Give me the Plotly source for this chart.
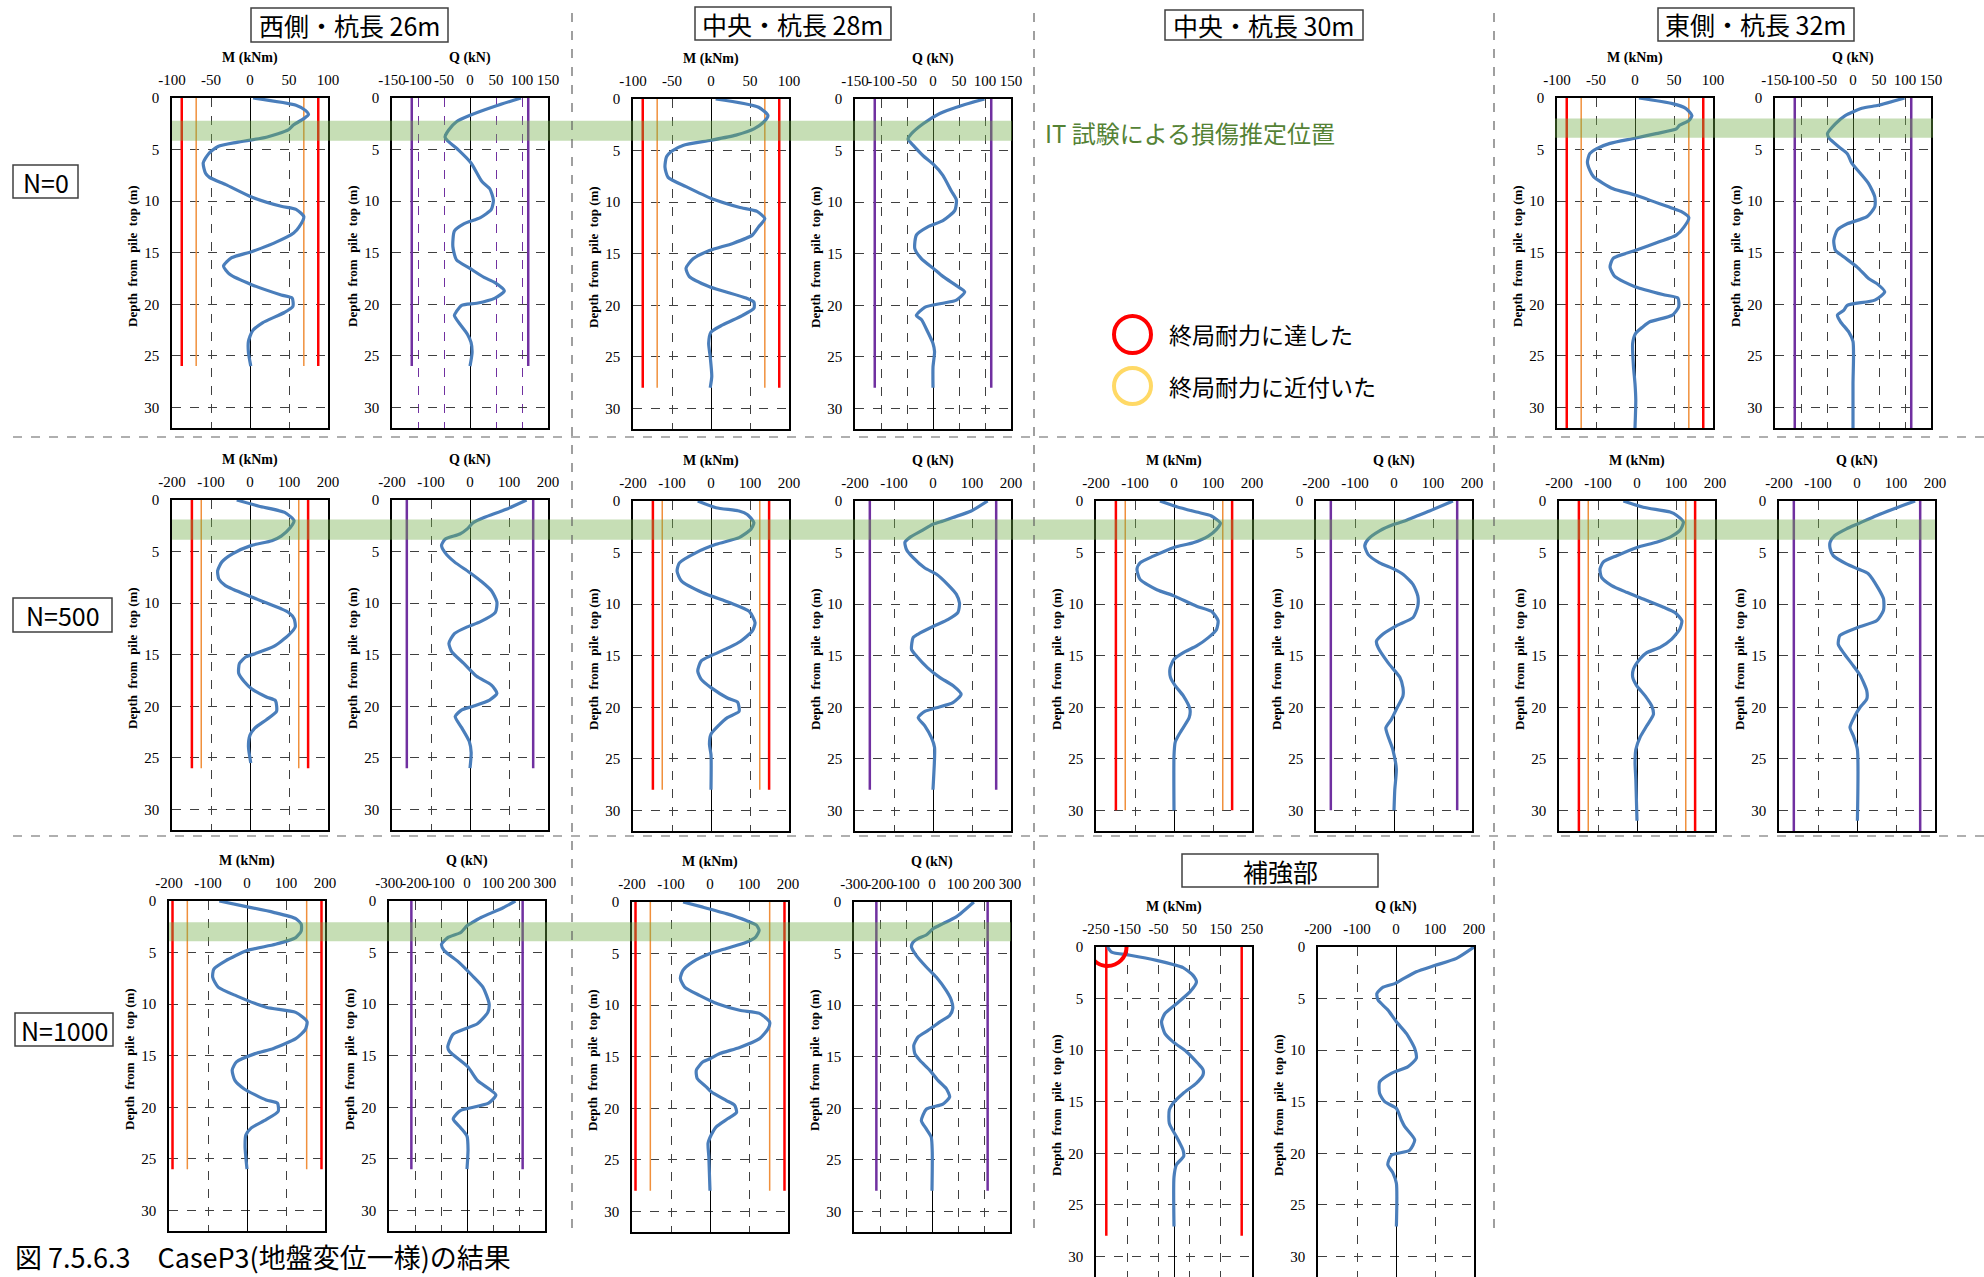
import plotly.graph_objects as go

# depth from pile top (m) and bending moment M (kNm) / shear Q (kN)
# N=0
n0_w_md = [0, 0.7, 1.2, 1.6, 2.0, 2.6, 3.1, 3.8, 4.3, 4.7, 5.4, 6.3, 7.3, 7.7, 8.4, 9.6, 10.5, 10.8, 11.5, 12.5, 13.1,
           14.1, 14.9, 15.5, 16.3, 17.1, 18.1, 19.1, 19.4, 20.2, 20.8, 21.8, 22.6, 23.6, 24.7, 26]
n0_w_m = [4, 59, 71, 75, 69, 56, 49, 21, -17, -41, -53, -60, -57, -52, -31, 2, 40, 59, 69, 63, 56,
          30, 2, -24, -34, -26, 2, 40, 54, 55, 44, 16, 3, -2, -2, 1]
n0_w_qd = [0, 0.8, 1.7, 2.3, 3.1, 3.8, 4.1, 5.0, 6.3, 8.1, 8.8, 9.9, 10.8, 11.6, 12.2, 12.9, 14.4, 15.7, 16.5, 17.4,
           17.9, 18.7, 19.4, 19.9, 20.1, 20.7, 21.1, 22.9, 23.7, 24.7, 26]
n0_w_q = [98, 48, -1, -26, -41, -48, -44, -23, 2, 23, 38, 45, 41, 20, -12, -30, -33, -26, -1, 27,
          48, 66, 48, 13, -16, -26, -30, -5, 2, 4, 0]

n0_c28_md = [0, 0.8, 1.6, 2.2, 2.9, 3.5, 4.0, 4.5, 5.0, 5.6, 6.6, 7.6, 8.5, 9.7, 10.5, 10.9, 11.6, 12.4, 13.2, 14.0,
             14.7, 15.5, 16.4, 17.2, 18.2, 19.3, 19.7, 20.3, 21.0, 21.9, 22.6, 23.7, 25.0, 26.9, 28]
n0_c28_m = [6, 61, 73, 68, 55, 32, 0, -36, -49, -57, -59, -55, -32, 2, 36, 59, 69, 61, 53, 28,
            -2, -23, -32, -28, -2, 45, 55, 55, 40, 15, 0, -3, -1, 1, -1]
n0_c28_qd = [0, 0.6, 1.4, 2.4, 3.4, 3.9, 4.5, 5.5, 6.3, 7.4, 8.9, 9.8, 10.8, 11.8, 12.4, 13.2, 14.5, 15.5, 16.4,
             17.2, 18.1, 18.7, 19.5, 19.8, 20.2, 21.0, 21.4, 22.6, 23.7, 24.5, 26, 28]
n0_c28_q = [99, 57, 13, -19, -42, -48, -38, -19, 0, 19, 35, 45, 42, 19, -10, -32, -35, -22, 0,
            19, 45, 61, 45, 19, -16, -32, -22, -10, 0, 3, 0, 0]

n0_e32_md = [0, 0.55, 1.0, 1.7, 2.2, 2.65, 3.0, 3.45, 3.9, 4.4, 4.9, 5.4, 6.2, 7.0, 7.65, 8.8, 9.4, 10.7, 11.0, 11.6,
             12.5, 13.3, 13.95, 14.75, 15.55, 16.4, 17.3, 18.3, 19.1, 19.4, 20.25, 21.05, 21.7, 22.2, 22.8, 23.8,
             26.0, 27.7, 29.3, 32]
n0_e32_m = [5, 48, 65, 73, 69, 57, 53, 27, 0, -32, -49, -58, -61, -58, -53, -28, 0, 48, 59, 69,
            63, 53, 31, 2, -28, -32, -26, 0, 38, 55, 56, 48, 19, 10, 1, -3, -2, 0, 1, 0]
n0_e32_qd = [0, 0.7, 1.0, 1.7, 2.5, 3.45, 3.9, 4.75, 5.4, 6.35, 7.3, 8.3, 9.6, 10.55, 11.5, 12.2, 12.8, 13.8, 14.75,
             15.4, 16.4, 17.5, 18.0, 18.8, 19.6, 20.1, 20.6, 21.05, 21.7, 22.7, 23.6, 25.1, 27.7, 32]
n0_e32_q = [99, 49, 17, -15, -34, -49, -46, -27, -11, -2, 14, 30, 42, 42, 27, -11, -30, -37, -34,
            -18, 8, 30, 46, 61, 42, -11, -18, -30, -24, -8, 0, 1, 0, 0]

# N=500
n500_w_md = [0, 0.6, 1.2, 2.0, 2.7, 3.5, 3.95, 4.4, 5.2, 6.0, 6.85, 7.65, 8.3, 9.4, 10.55, 10.9, 11.5, 12.3, 13.1,
             14.2, 14.9, 15.2, 15.85, 16.8, 17.6, 18.3, 19.1, 19.45, 20.5, 21.3, 22.1, 22.8, 23.9, 25.5]
n500_w_m = [-34, 23, 89, 113, 103, 80, 56, 4, -44, -72, -83, -80, -63, 4, 80, 99, 113, 116, 99,
            61, 13, -10, -27, -29, -15, 4, 42, 65, 68, 42, 13, 0, -4, 2]
n500_w_qd = [0, 0.9, 1.7, 2.2, 2.8, 3.3, 3.8, 4.4, 5.1, 6.0, 7.0, 7.95, 8.8, 9.9, 10.9, 11.8, 12.3, 12.95, 13.9,
             14.7, 15.85, 17.1, 17.95, 18.75, 19.4, 20.0, 20.35, 21.0, 22.1, 23.4, 24.5, 26]
n500_w_q = [145, 93, 36, 8, -7, -26, -64, -73, -64, -40, -2, 31, 55, 69, 65, 27, -7, -40, -54,
            -47, -16, 17, 55, 69, 50, 8, -21, -38, -21, -2, 3, 0]

n500_c28_md = [0, 0.65, 0.97, 1.3, 2.1, 2.75, 3.55, 4.2, 5.0, 6.0, 6.8, 7.75, 8.9, 9.85, 10.7, 11.8, 12.6, 13.6,
               14.2, 15.0, 15.5, 16.5, 17.3, 18.1, 19.1, 19.5, 20.4, 21.0, 21.7, 22.6, 23.6, 24.6, 28]
n500_c28_m = [-34, 13, 72, 93, 110, 102, 72, 13, -38, -81, -87, -76, -21, 47, 98, 113, 106, 76,
              47, 0, -25, -34, -25, 0, 42, 68, 72, 42, 21, 0, -4, 0, 0]
n500_c28_qd = [0, 0.97, 1.6, 1.94, 2.26, 2.9, 3.55, 4.0, 4.7, 5.5, 6.5, 7.1, 8.1, 9.05, 9.9, 10.8, 11.5, 12.1,
               12.9, 13.25, 14.4, 15.0, 16.2, 17.1, 17.9, 18.75, 19.55, 20.05, 20.4, 21.0, 21.8, 22.95, 23.9,
               24.9, 28]
n500_c28_q = [140, 98, 51, 26, 0, -30, -60, -72, -68, -51, -21, 9, 38, 60, 68, 64, 38, 4,
              -38, -51, -55, -43, -13, 17, 51, 72, 51, 9, -21, -38, -21, -4, 4, 4, 0]

n500_c30_md = [0, 0.55, 1.07, 1.45, 2.15, 2.75, 3.4, 4.05, 4.5, 5.35, 6.0, 6.6, 7.6, 8.6, 9.2, 10.2, 10.7, 11.6,
               12.45, 13.25, 14.05, 14.7, 15.35, 16.2, 17.1, 17.9, 18.9, 20.2, 21.0, 22.5, 23.4, 24.7, 30]
n500_c30_m = [-36, 7, 58, 96, 119, 109, 88, 49, 0, -53, -87, -95, -87, -44, 0, 58, 96, 113,
              109, 88, 58, 24, 0, -10, -9, 3, 24, 41, 39, 15, 3, 0, 0]
n500_c30_qd = [0, 0.97, 1.6, 1.94, 2.26, 2.9, 3.7, 4.35, 5.2, 6.0, 6.6, 7.1, 8.1, 9.2, 10.2, 11.3, 12.1, 12.9,
               13.6, 14.2, 15.7, 17.1, 18.1, 18.9, 20.2, 21.2, 22.0, 24.1, 26, 28, 30]
n500_c30_q = [151, 91, 49, 27, 0, -37, -66, -75, -66, -37, 0, 23, 49, 61, 61, 49, 6, -28,
              -45, -41, -15, 15, 23, 23, 6, -7, -21, -3, 6, 2, 0]

n500_e32_md = [0, 0.6, 1.07, 1.4, 2.05, 2.85, 3.5, 4.0, 4.5, 5.3, 5.9, 6.6, 7.4, 8.2, 8.85, 9.5, 10.3, 10.8, 11.6,
               12.4, 13.4, 14.2, 14.7, 15.3, 16.3, 17.1, 17.9, 18.9, 19.9, 20.7, 21.8, 22.9, 24.1, 25.4, 27.0, 31]
n500_e32_m = [-35, 16, 85, 102, 119, 110, 85, 50, 0, -52, -86, -95, -91, -65, -27, 16, 68, 97, 115,
              110, 89, 59, 25, 8, -9, -11, -1, 21, 38, 42, 25, 8, -3, -5, -3, 0]
n500_e32_qd = [0, 0.65, 1.4, 2.2, 2.7, 3.35, 4.0, 4.6, 5.3, 6.1, 6.6, 7.05, 8.5, 9.5, 10.6, 11.6, 12.25, 13.05,
               13.9, 14.7, 16.0, 16.9, 18.4, 19.2, 20.0, 20.8, 21.95, 22.8, 24.1, 31]
n500_e32_q = [149, 102, 51, 3, -27, -57, -69, -69, -61, -27, 3, 29, 55, 68, 68, 51, 3, -44,
              -48, -35, -9, 8, 25, 25, 8, -5, -18, -9, 1, 1]

# N=1000
n1000_w_md = [0, 0.5, 1.1, 1.7, 2.25, 2.9, 3.55, 4.2, 4.8, 5.8, 6.6, 7.4, 8.35, 9.2, 10.3, 10.8, 11.7, 12.5, 13.35,
              14.3, 14.8, 15.6, 16.4, 17.4, 18.2, 19.3, 19.6, 20.4, 21.2, 22.0, 22.7, 23.8, 26]
n1000_w_m = [-71, -8, 68, 125, 139, 139, 125, 73, 0, -55, -85, -88, -74, -27, 49, 125, 154, 149, 125,
             68, 21, -27, -38, -31, -8, 49, 78, 80, 49, 11, -3, -5, 0]
n1000_w_qd = [0, 0.65, 1.6, 2.1, 2.4, 3.05, 3.55, 4.2, 4.8, 5.95, 7.2, 8.35, 9.95, 10.8, 11.9, 12.9, 14.15, 14.6,
              16.1, 17.4, 18.8, 19.6, 20.3, 20.6, 21.15, 22.0, 22.8, 24.1, 26]
n1000_w_q = [186, 139, 54, 19, 0, -24, -74, -98, -88, -31, 19, 61, 85, 80, 40, -53, -74, -67,
             4, 40, 111, 83, -24, -38, -53, -24, 0, 4, 0]

n1000_c28_md = [0, 0.5, 1.13, 1.8, 2.25, 2.75, 3.4, 3.9, 4.5, 5.0, 5.8, 6.6, 7.4, 8.25, 9.05, 9.9, 10.5, 10.8,
                11.65, 12.3, 13.25, 14.1, 14.7, 15.2, 15.5, 16.3, 17.1, 17.95, 18.4, 19.25, 19.7, 20.4, 21.0,
                21.8, 22.6, 23.4, 24.7, 28]
n1000_c28_m = [-69, -18, 42, 93, 119, 126, 117, 93, 42, 0, -44, -69, -76, -65, -27, 21, 76, 127,
               153, 149, 127, 76, 25, 0, -18, -35, -33, -9, 3, 42, 63, 68, 46, 16, 3, -5, -3, 0]
n1000_c28_qd = [0, 1.45, 2.1, 2.6, 3.2, 3.55, 3.9, 4.35, 5.2, 6.3, 7.3, 8.6, 9.5, 10.3, 11.0, 11.65, 12.45, 13.1,
                13.9, 14.7, 15.35, 16.3, 17.3, 18.1, 18.9, 19.6, 20.1, 21.2, 22.0, 22.8, 24.25, 28]
n1000_c28_q = [161, 93, 42, 4, -22, -54, -73, -79, -60, -22, 17, 55, 74, 80, 68, 29, -15, -54,
               -70, -66, -47, -9, 23, 55, 68, 42, -22, -41, -22, -3, 1, 0]

# reinforced section (補強部)
rf_md = [0, 0.5, 0.8, 1.3, 1.7, 2.0, 2.75, 3.4, 4.35, 5.5, 6.45, 7.25, 8.4, 9.2, 10.15, 11.3, 11.9, 12.4, 13.2,
         14.2, 15.15, 15.8, 17.1, 18.4, 19.7, 20.3, 21.1, 22.3, 27.1]
rf_m = [-213, -200, -141, -56, -3, 29, 61, 72, 51, 8, -29, -40, -29, -3, 40, 77, 93, 93, 72,
        29, -3, -15, -15, 8, 29, 31, 8, 0, 0]
rf_qd = [0, 1.1, 1.8, 2.4, 3.1, 3.55, 3.9, 4.5, 5.15, 6.1, 7.25, 8.4, 9.85, 10.8, 11.6, 12.25, 13.1, 14.2, 15.0,
         15.65, 16.8, 17.4, 18.7, 19.7, 20.2, 21.1, 21.9, 22.9, 27.1]
rf_q = [200, 155, 99, 52, 18, -3, -33, -49, -46, -21, 1, 27, 48, 52, 31, -12, -42, -42, -29,
        1, 14, 22, 48, 35, -12, -21, -8, 1, 1]

# capacities for N=0 / 500 / 1000
m_ultimate = [87.5, 149, 191]
m_near = [69, 125, 153]
q_ultimate = [112, 162, 214]
rf_m_ultimate = 217
pile_len = [26, 28, 30, 32]
# damage zone from IT test (depth range, m)
it_zone = [(2.2, 4.15), (2.0, 3.85), (1.9, 3.85), (2.05, 3.9)]

W, H = 1984, 1277
BLUE = '#4a7ebb'
RED = '#ff0000'
ORANGE = '#f0903c'
PURPLE = '#7030a0'
GRID = '#404040'
SERIF = 'Liberation Serif'
CJK = 'Noto Sans CJK JP'


def px(x):
    return x / W


def py(y):
    return 1 - y / H


fig = go.Figure()
axes = {}
shapes = []
annotations = []
naxis = 0


def label(x, y, text, font, xanchor='center', **kw):
    annotations.append(dict(x=px(x), y=py(y), xref='paper', yref='paper', text=text, showarrow=False,
                            xanchor=xanchor, yanchor='middle', font=font, **kw))


def new_axes(left, top, half, step, title, grid_color=GRID, w=156, h=330):
    global naxis
    naxis += 1
    s = '' if naxis == 1 else str(naxis)
    ticks = list(range(-half, half + 1, step))
    axes['xaxis' + s] = dict(
        domain=[px(left), px(left + w)], range=[-half, half], anchor='y' + s, side='top', automargin=False,
        tickvals=ticks, ticktext=[str(t) for t in ticks], tickangle=0,
        tickfont=dict(family=SERIF, size=15, color='black'), ticks='', ticklabelstandoff=5,
        showgrid=True, gridcolor=grid_color, griddash='dash', gridwidth=1,
        zeroline=True, zerolinecolor='black', zerolinewidth=1.2,
        showline=True, linecolor='black', linewidth=1.5, mirror=True, fixedrange=True)
    axes['yaxis' + s] = dict(
        domain=[max(0, py(top + h)), py(top)], range=[32, 0], anchor='x' + s, automargin=False,
        tickvals=list(range(0, 31, 5)), tickfont=dict(family=SERIF, size=15, color='black'),
        ticks='', ticklabelstandoff=8,
        showgrid=True, gridcolor=GRID, griddash='dash', gridwidth=1, zeroline=False,
        showline=True, linecolor='black', linewidth=1.5, mirror=True, fixedrange=True)
    label(left + w / 2, top - 40, '<b>%s</b>' % title, dict(family=SERIF, size=14, color='black'))
    label(left - 40, top + 158, '<b>Depth  from  pile  top (m)</b>', dict(family=SERIF, size=13, color='black'),
          textangle=-90)
    return 'x' + s, 'y' + s


def vline(xa, ya, v, depth, color, width):
    fig.add_trace(go.Scatter(x=[v, v], y=[0, depth], mode='lines', line=dict(color=color, width=width),
                             xaxis=xa, yaxis=ya, hoverinfo='skip'))


def curve(xa, ya, vals, depths):
    fig.add_trace(go.Scatter(x=vals, y=depths, mode='lines',
                             line=dict(color=BLUE, width=3.2, shape='spline', smoothing=0.6),
                             xaxis=xa, yaxis=ya, hoverinfo='skip'))


# (row, column, M frame left, Q frame left, top, M half range, M step, Q half range, Q step, data)
panels = [
    (0, 0, 172, 392, 98, 100, 50, 150, 50, n0_w_m, n0_w_md, n0_w_q, n0_w_qd),
    (0, 1, 633, 855, 99, 100, 50, 150, 50, n0_c28_m, n0_c28_md, n0_c28_q, n0_c28_qd),
    (0, 3, 1557, 1775, 98, 100, 50, 150, 50, n0_e32_m, n0_e32_md, n0_e32_q, n0_e32_qd),
    (1, 0, 172, 392, 500, 200, 100, 200, 100, n500_w_m, n500_w_md, n500_w_q, n500_w_qd),
    (1, 1, 633, 855, 501, 200, 100, 200, 100, n500_c28_m, n500_c28_md, n500_c28_q, n500_c28_qd),
    (1, 2, 1096, 1316, 501, 200, 100, 200, 100, n500_c30_m, n500_c30_md, n500_c30_q, n500_c30_qd),
    (1, 3, 1559, 1779, 501, 200, 100, 200, 100, n500_e32_m, n500_e32_md, n500_e32_q, n500_e32_qd),
    (2, 0, 169, 389, 901, 200, 100, 300, 100, n1000_w_m, n1000_w_md, n1000_w_q, n1000_w_qd),
    (2, 1, 632, 854, 902, 200, 100, 300, 100, n1000_c28_m, n1000_c28_md, n1000_c28_q, n1000_c28_qd),
]

row_axis = {}
for i, (row, col, mleft, qleft, top, mh, ms, qh, qs, mv, md, qv, qd) in enumerate(panels):
    L = pile_len[col]
    xa, ya = new_axes(mleft, top, mh, ms, 'M (kNm)')
    row_axis.setdefault((row, row == 0 and col == 3), ya)
    vline(xa, ya, -m_ultimate[row], L, RED, 2.5)
    vline(xa, ya, m_ultimate[row], L, RED, 2.5)
    vline(xa, ya, -m_near[row], L, ORANGE, 1.5)
    vline(xa, ya, m_near[row], L, ORANGE, 1.5)
    curve(xa, ya, mv, md)

    qgrid = PURPLE if i == 0 else GRID
    xa, ya = new_axes(qleft, top, qh, qs, 'Q (kN)', grid_color=qgrid)
    vline(xa, ya, -q_ultimate[row], L, PURPLE, 2.5)
    vline(xa, ya, q_ultimate[row], L, PURPLE, 2.5)
    curve(xa, ya, qv, qd)

# reinforced section
xa, ya = new_axes(1096, 947, 250, 100, 'M (kNm)')
vline(xa, ya, -rf_m_ultimate, 28, RED, 2.5)
vline(xa, ya, rf_m_ultimate, 28, RED, 2.5)
curve(xa, ya, rf_m, rf_md)
shapes.append(dict(type='circle', xref=xa, yref=ya, xsizemode='pixel', ysizemode='pixel',
                   xanchor=rf_m[0], yanchor=rf_md[0], x0=-19, x1=19, y0=-19, y1=19,
                   line=dict(color=RED, width=4), layer='above'))
xa, ya = new_axes(1318, 947, 200, 100, 'Q (kN)')
curve(xa, ya, rf_q, rf_qd)

# IT-test damage zones
band_runs = [((0, False), 172, 1012, it_zone[0]), ((0, True), 1555, 1933, it_zone[1]),
             ((1, False), 172, 1935, it_zone[2]), ((2, False), 169, 1011, it_zone[3])]
for key, x0, x1, (d0, d1) in band_runs:
    shapes.append(dict(type='rect', xref='paper', yref=row_axis[key], x0=px(x0), x1=px(x1), y0=d0, y1=d1,
                       fillcolor='rgba(112,173,71,0.4)', line=dict(width=0), layer='above'))

# dashed separators
for x in [572, 1034, 1494]:
    shapes.append(dict(type='line', xref='paper', yref='paper', x0=px(x), x1=px(x), y0=py(13), y1=py(1237),
                       line=dict(color='#606060', width=1.2, dash='dash')))
for y in [437, 836]:
    shapes.append(dict(type='line', xref='paper', yref='paper', x0=px(13), x1=px(1984), y0=py(y), y1=py(y),
                       line=dict(color='#606060', width=1.2, dash='dash')))

# boxed labels
boxes = [('西側・杭長 26m', 251, 448, 8, 42, 25), ('中央・杭長 28m', 695, 891, 7, 40, 25),
         ('中央・杭長 30m', 1165, 1363, 10, 40, 25), ('東側・杭長 32m', 1658, 1854, 8, 41, 25),
         ('補強部', 1182, 1378, 854, 887, 25), ('N=0', 13, 78, 165, 198, 25),
         ('N=500', 13, 112, 598, 632, 25), ('N=1000', 15, 113, 1013, 1046, 25)]
for text, x0, x1, y0, y1, fs in boxes:
    shapes.append(dict(type='rect', xref='paper', yref='paper', x0=px(x0), x1=px(x1), y0=py(y1), y1=py(y0),
                       line=dict(color='#404040', width=1.5), fillcolor='white', layer='above'))
    label((x0 + x1) / 2, (y0 + y1) / 2, text, dict(family=CJK, size=fs, color='black'))

# legend of capacity markers
for y0, y1, color, text in [(316, 353, RED, '終局耐力に達した'), (368, 404, '#ffd966', '終局耐力に近付いた')]:
    shapes.append(dict(type='circle', xref='paper', yref='paper', x0=px(1114), x1=px(1151), y0=py(y1), y1=py(y0),
                       line=dict(color=color, width=4), layer='above'))
    label(1167, (y0 + y1) / 2, text, dict(family=CJK, size=23, color='black'), xanchor='left')

label(1043, 133, 'IT 試験による損傷推定位置', dict(family=CJK, size=24, color='#548235'), xanchor='left')
label(13, 1256, '図 7.5.6.3\u3000CaseP3(地盤変位一様)の結果', dict(family=CJK, size=27, color='black'),
      xanchor='left')

fig.update_layout(width=W, height=H, margin=dict(l=0, r=0, t=0, b=0, autoexpand=False), paper_bgcolor='white',
                  plot_bgcolor='white', showlegend=False, shapes=shapes, annotations=annotations, **axes)

fig.write_html("out.html", config={'displayModeBar': False},
               post_script="document.body.style.margin='0';document.body.style.overflow='hidden';")
